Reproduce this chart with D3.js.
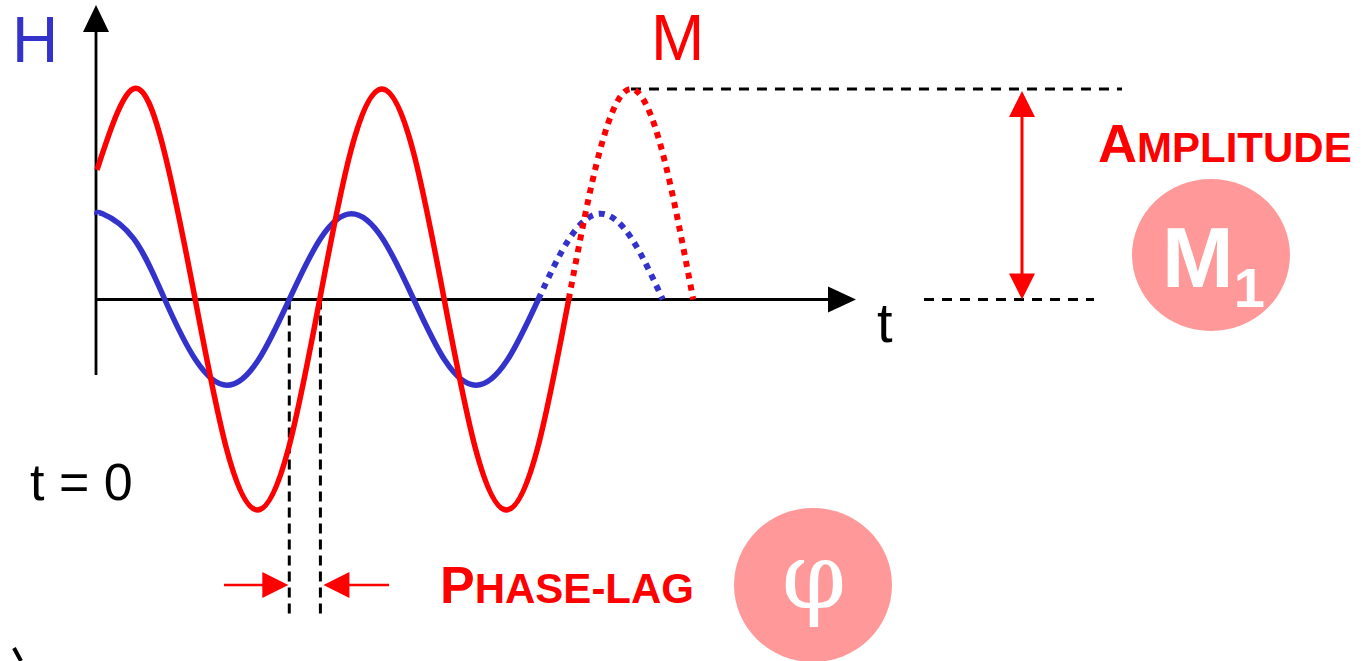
<!DOCTYPE html>
<html lang="en">
<head>
    <meta charset="UTF-8">
    <title>Phase lag</title>
    <script src="https://d3js.org/d3.v7.min.js"></script>
    <style>
        body {margin:0;background:#fff}
        text {font-family:"Liberation Sans", Arial, sans-serif}
    </style>
</head>
<body>
    <div id="chart"></div>
    <script>
        // t in degrees of phase, values in field units
        var hSolidT = [0, 8, 53, 98, 143, 188, 233, 278, 323, 368, 413, 458, 503, 548, 593, 638];
        var hSolidV = [85, 86, 61, 0, -61, -86, -61, 0, 61, 86, 61, 0, -61, -86, -61, 0];
        var hDotT = [638, 683, 728, 773, 818];
        var hDotV = [0, 61, 86, 61, 0];

        var mSolidT = [0, 52, 97, 142, 187, 232, 277, 322, 367, 412, 457, 502, 547, 592, 637, 682];
        var mSolidV = [130, 211, 149, 0, -149, -211, -149, 0, 149, 211, 149, 0, -149, -211, -149, 0];
        var mDotT = [682, 727, 772, 817, 862];
        var mDotV = [0, 149, 211, 149, 0];

        var lagT = [278, 323];   // zero crossings of H and M
        var ampT = 772;          // M peak used for the amplitude guide

        var w = 1369, h = 661;
        var svg = d3.select("#chart").append("svg")
            .attr("width", w)
            .attr("height", h);

        var x = d3.scaleLinear().domain([0, 360]).range([97, 346]);
        var y = d3.scaleLinear().domain([-211, 211]).range([510, 89]);

        var red = "#ff0000", blue = "#3333cc";

        function pts(ts, vs) {
            return ts.map((t, i) => [t, vs[i]]);
        }
        var line = d3.line()
            .x(d => x(d[0]))
            .y(d => y(d[1]))
            .curve(d3.curveNatural);

        function tri(cx, cy, dir, len, half) {
            // arrow head with tip at (cx,cy)
            if (dir === "up") return `M${cx},${cy} L${cx - half},${cy + len} L${cx + half},${cy + len} Z`;
            if (dir === "down") return `M${cx},${cy} L${cx - half},${cy - len} L${cx + half},${cy - len} Z`;
            if (dir === "right") return `M${cx},${cy} L${cx - len},${cy - half} L${cx - len},${cy + half} Z`;
            return `M${cx},${cy} L${cx + len},${cy - half} L${cx + len},${cy + half} Z`;
        }

        // axes
        var y0 = y(0);
        svg.append("line")
            .attr("x1", 96).attr("x2", 96)
            .attr("y1", 375).attr("y2", 25)
            .attr("stroke", "#000").attr("stroke-width", 2.8);
        svg.append("path").attr("d", tri(96, 5, "up", 27, 13)).attr("fill", "#000");
        svg.append("line")
            .attr("x1", 96).attr("x2", 835)
            .attr("y1", y0).attr("y2", y0)
            .attr("stroke", "#000").attr("stroke-width", 2.8);
        svg.append("path").attr("d", tri(856, y0, "right", 28, 13)).attr("fill", "#000");

        // phase lag guides
        lagT.forEach(function(t) {
            svg.append("line")
                .attr("x1", x(t)).attr("x2", x(t))
                .attr("y1", y0).attr("y2", 614)
                .attr("stroke", "#000").attr("stroke-width", 3)
                .attr("stroke-dasharray", "10,6");
        });
        var ay = 585;
        svg.append("line").attr("x1", 224).attr("x2", x(lagT[0]) - 20)
            .attr("y1", ay).attr("y2", ay).attr("stroke", red).attr("stroke-width", 2.5);
        svg.append("path").attr("d", tri(x(lagT[0]) - 1, ay, "right", 26, 13)).attr("fill", red);
        svg.append("line").attr("x1", x(lagT[1]) + 20).attr("x2", 389)
            .attr("y1", ay).attr("y2", ay).attr("stroke", red).attr("stroke-width", 2.5);
        svg.append("path").attr("d", tri(x(lagT[1]) + 3, ay, "left", 26, 13)).attr("fill", red);

        // amplitude guides
        var ytop = y(211);
        svg.append("line").attr("x1", x(ampT)).attr("x2", 1122)
            .attr("y1", ytop).attr("y2", ytop)
            .attr("stroke", "#000").attr("stroke-width", 2.8).attr("stroke-dasharray", "10,8");
        svg.append("line").attr("x1", 924).attr("x2", 1094)
            .attr("y1", y0).attr("y2", y0)
            .attr("stroke", "#000").attr("stroke-width", 2.8).attr("stroke-dasharray", "10,8");
        var axx = 1022;
        svg.append("line").attr("x1", axx).attr("x2", axx)
            .attr("y1", ytop + 20).attr("y2", y0 - 20)
            .attr("stroke", red).attr("stroke-width", 3);
        svg.append("path").attr("d", tri(axx, ytop + 2, "up", 26, 13)).attr("fill", red);
        svg.append("path").attr("d", tri(axx, y0, "down", 26, 13)).attr("fill", red);

        // curves
        svg.append("path").datum(pts(hDotT, hDotV)).attr("d", line)
            .attr("fill", "none").attr("stroke", blue).attr("stroke-width", 6)
            .attr("stroke-dasharray", "6,6");
        svg.append("path").datum(pts(mDotT, mDotV)).attr("d", line)
            .attr("fill", "none").attr("stroke", red).attr("stroke-width", 6)
            .attr("stroke-dasharray", "6,6");
        svg.append("path").datum(pts(hSolidT, hSolidV)).attr("d", line)
            .attr("fill", "none").attr("stroke", blue).attr("stroke-width", 5.5);
        svg.append("path").datum(pts(mSolidT, mSolidV)).attr("d", line)
            .attr("fill", "none").attr("stroke", red).attr("stroke-width", 5.5);

        // labels
        svg.append("text").attr("x", 12).attr("y", 62)
            .attr("font-size", 64).attr("fill", blue).text("H");
        svg.append("text").attr("x", 651).attr("y", 60)
            .attr("font-size", 64).attr("fill", red).text("M");
        svg.append("text").attr("x", 877).attr("y", 342)
            .attr("font-size", 56).attr("fill", "#000").text("t");
        svg.append("text").attr("x", 30).attr("y", 500)
            .attr("font-size", 52).attr("fill", "#000").text("t = 0");

        var amp = svg.append("text").attr("x", 1098).attr("y", 162)
            .attr("font-weight", "bold").attr("fill", red);
        amp.append("tspan").attr("font-size", 54).text("A");
        amp.append("tspan").attr("font-size", 42).text("MPLITUDE");

        var ph = svg.append("text").attr("x", 440).attr("y", 603)
            .attr("font-weight", "bold").attr("fill", red);
        ph.append("tspan").attr("font-size", 52).text("P");
        ph.append("tspan").attr("font-size", 42).text("HASE-LAG");

        // badges
        svg.append("ellipse").attr("cx", 1211).attr("cy", 255).attr("rx", 79).attr("ry", 76)
            .attr("fill", "#ff9999");
        var m1 = svg.append("text").attr("x", 1162).attr("y", 287)
            .attr("font-weight", "bold").attr("fill", "#fff");
        m1.append("tspan").attr("font-size", 86).text("M");
        m1.append("tspan").attr("font-size", 56).attr("dy", 20).text("1");

        svg.append("ellipse").attr("cx", 813).attr("cy", 585).attr("rx", 79).attr("ry", 77)
            .attr("fill", "#ff9999");
        svg.append("text").attr("x", 814).attr("y", 608)
            .attr("text-anchor", "middle")
            .style("font-family", "'DejaVu Serif', serif")
            .attr("font-size", 92).attr("fill", "#fff").text("φ");

        // stray stroke at the bottom-left edge
        svg.append("line").attr("x1", 14).attr("y1", 648).attr("x2", 21).attr("y2", 661)
            .attr("stroke", "#000").attr("stroke-width", 4);
    </script>
</body>
</html>
